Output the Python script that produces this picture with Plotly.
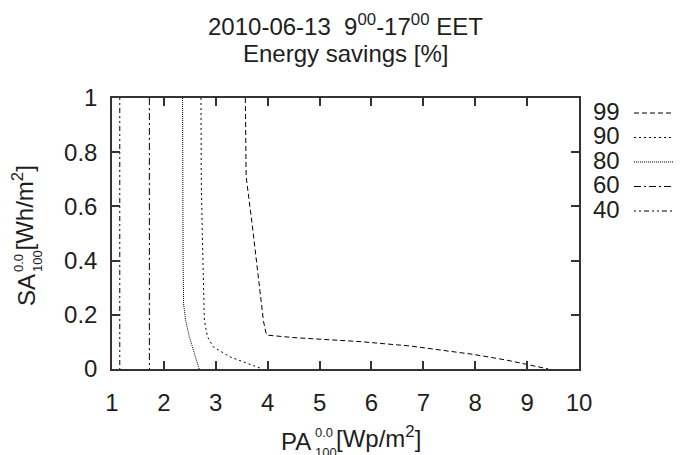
import plotly.graph_objects as go

# ---- data ----
x_ticks = [1, 2, 3, 4, 5, 6, 7, 8, 9, 10]
y_ticks = [0, 0.2, 0.4, 0.6, 0.8, 1]
y_tick_labels = ["0", "0.2", "0.4", "0.6", "0.8", "1"]

series_names = ["99", "90", "80", "60", "40"]

pa_99 = [3.57, 3.575, 3.585, 3.71, 3.82, 3.92, 3.97, 3.99, 4.49, 5.78, 6.74, 7.32, 7.96, 8.6, 8.99, 9.41]
sa_99 = [1.0, 0.78, 0.71, 0.52, 0.335, 0.175, 0.132, 0.125, 0.116, 0.101, 0.085, 0.07, 0.054, 0.033, 0.018, 0.0]

pa_90 = [2.715, 2.72, 2.74, 2.76, 2.78, 2.84, 2.95, 3.27, 3.60, 3.90]
sa_90 = [1.0, 0.7, 0.5, 0.365, 0.18, 0.119, 0.082, 0.045, 0.021, 0.0]

pa_80 = [2.36, 2.36, 2.37, 2.38, 2.42, 2.49, 2.58, 2.68]
sa_80 = [1.0, 0.7, 0.4, 0.24, 0.18, 0.119, 0.058, 0.0]

pa_60 = [1.72, 1.72]
sa_60 = [1.0, 0.0]

pa_40 = [1.15, 1.15]
sa_40 = [1.0, 0.0]

pa_series = [pa_99, pa_90, pa_80, pa_60, pa_40]
sa_series = [sa_99, sa_90, sa_80, sa_60, sa_40]

# ---- styling ----
dashes = ["5px,3px", "2px,3px", "1px,1px", "7px,3px,2px,3px", "2px,3px,2px,3px,5px,3px"]
FONT = "Liberation Sans, Arial, Helvetica, sans-serif"
TXT = "#1e1e1e"
AX = "#333333"

W, H = 682, 455
OFF = 8  # page body margin
# plot area in screen pixels: x 112..579, y 98..369
L, T = 112 - OFF, 98 - OFF
R = W - (579 - OFF)
B = H - (369 - OFF)


def px(X):
    return (X - 112) / 467


def py(Y):
    return (369 - Y) / 271


fig = go.Figure()
for name, xs, ys, d in zip(series_names, pa_series, sa_series, dashes):
    fig.add_trace(go.Scatter(x=xs, y=ys, mode="lines", name=name,
                             line=dict(color="black", width=1, dash=d),
                             showlegend=False))

annotations = []
shapes = []


def ann(text, X, Y, size, xa="center", ya="middle", angle=0):
    annotations.append(dict(text=text, x=px(X), y=py(Y), xref="paper", yref="paper",
                            xanchor=xa, yanchor=ya, textangle=angle, showarrow=False,
                            font=dict(size=size, color=TXT, family=FONT)))


# title
ann("2010-06-13&nbsp;&nbsp;9<sup>00</sup>-17<sup>00</sup> EET", 345.5, 24.5, 24)
ann("Energy savings [%]", 345.5, 53, 24)

# x axis title with stacked super/subscript
ann("PA", 313, 441, 24, xa="right")
ann("0.0", 313, 432, 13, xa="left")
ann("100", 313, 452, 13, xa="left")
ann("[Wp/m<sup>2</sup>]", 334, 437, 24, xa="left")

# y axis title (rotated)
ann("SA", 26, 308, 24, ya="bottom", angle=-90)
ann("0.0", 18, 274, 13, ya="bottom", angle=-90)
ann("100", 37, 274, 13, ya="bottom", angle=-90)
ann("[Wh/m<sup>2</sup>]", 22, 253, 24, ya="bottom", angle=-90)

# legend (label on the left, line sample on the right)
for i, (name, d) in enumerate(zip(series_names, dashes)):
    yrow = 111 + i * 24.5
    ann(name, 622, yrow, 24, xa="right")
    shapes.append(dict(type="line", xref="paper", yref="paper", x0=px(634), x1=px(690),
                       y0=py(yrow + 2), y1=py(yrow + 2), line=dict(color="black", width=1, dash=d)))

axis_common = dict(showline=True, linecolor=AX, linewidth=1.5, mirror="ticks", ticks="inside",
                   ticklen=8, tickwidth=1.5, tickcolor=AX, showgrid=False, zeroline=False,
                   tickfont=dict(size=24, color=TXT, family=FONT))

fig.update_layout(
    width=W, height=H,
    margin=dict(l=L, r=R, t=T, b=B),
    paper_bgcolor="white", plot_bgcolor="white",
    xaxis=dict(range=[1, 10], tickvals=x_ticks, ticktext=[str(v) for v in x_ticks],
               ticklabelstandoff=11, **axis_common),
    yaxis=dict(range=[0, 1], tickvals=y_ticks, ticktext=y_tick_labels,
               ticklabelstandoff=8, **axis_common),
    annotations=annotations, shapes=shapes,
)

fig.write_html("out.html")
